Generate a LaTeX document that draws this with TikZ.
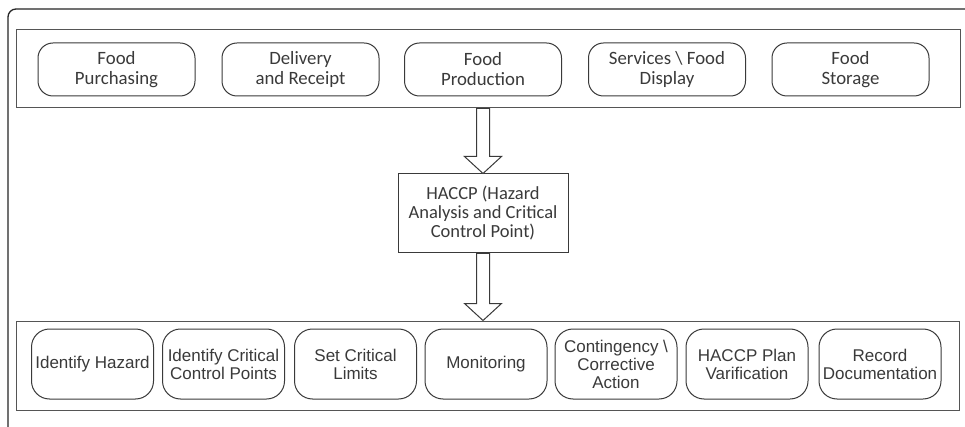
\documentclass[tikz,border=0pt]{standalone}
\usepackage{fontspec}
\setmainfont{Carlito}
\newfontfamily\arialf{Liberation Sans}
\usetikzlibrary{calc}
\definecolor{ink}{HTML}{3A3A3A}
\definecolor{frame}{HTML}{555555}
\tikzset{
  x=1pt, y=-1pt,
  band/.style={draw=frame, line width=1pt, minimum width=#1, inner sep=0pt},
  topbox/.style={draw=ink, line width=1pt, rounded corners=15pt, minimum width=157pt, minimum height=53pt, align=center, text=ink, font=\fontsize{18.8}{20}\selectfont, inner sep=0pt},
  botbox/.style={draw=ink, line width=1pt, rounded corners=18pt, minimum width=122pt, minimum height=70pt, align=center, text=ink, font=\arialf\fontsize{17}{18}\selectfont, inner sep=0pt},
  mainbox/.style={draw=ink, line width=1pt, minimum width=170pt, minimum height=79pt, align=center, text=ink, font=\fontsize{18.5}{19}\selectfont, inner sep=0pt},
  blockarrow/.style={draw=ink, line width=1pt, fill=white, line join=miter}
}
\begin{document}
\begin{tikzpicture}
\useasboundingbox (0,0) rectangle (965,427);
\fill[white] (0,0) rectangle (965,427);
% outer frame (clipped at right and bottom)
\draw[line width=1.3pt, black!85, rounded corners=8pt] (965,9) -- (8,9) -- (8,427);

% top band and boxes
\node[band=944pt, minimum height=78pt] (topband) at (488,69) {};
\node[topbox] (purch) at (116.5,69.5) {Food\\Purchasing};
\node[topbox] (deliv) at (300.5,69.5) {Delivery\\and Receipt};
\node[topbox] (prod)  at (483,69.5) {Food\\Production};
\node[topbox] (serv)  at (667,69.5) {Services \textbackslash{} Food\\Display};
\node[topbox] (stor)  at (850.5,69.5) {Food\\Storage};

% HACCP box
\node[mainbox] (haccp) at (483,213.5) {HACCP (Hazard\\Analysis and Critical\\Control Point)};

% bottom band and boxes
\node[band=943pt, minimum height=89pt] (botband) at (487.5,365.5) {};
\node[botbox] (b1) at (92.5,364)  {Identify Hazard};
\node[botbox] (b2) at (223.5,364) {Identify Critical\\Control Points};
\node[botbox] (b3) at (355.5,364) {Set Critical\\Limits};
\node[botbox] (b4) at (486,364)   {Monitoring};
\node[botbox] (b5) at (616,364)   {Contingency \textbackslash\\Corrective\\Action};
\node[botbox] (b6) at (747,364)   {HACCP Plan\\Varification};
\node[botbox] (b7) at (880,364)   {Record\\Documentation};

% block arrows
\coordinate (a1tip) at (haccp.north);
\coordinate (a1top) at (topband.south -| haccp.north);
\draw[blockarrow] (a1tip) -- ($(a1tip)+(-18.5,-17)$) -- ($(a1tip)+(-6.5,-17)$) -- ($(a1top)+(-6.5,0)$)
  -- ($(a1top)+(6.5,0)$) -- ($(a1tip)+(6.5,-17)$) -- ($(a1tip)+(18.5,-17)$) -- cycle;
\coordinate (a2tip) at (botband.north -| haccp.south);
\coordinate (a2top) at (haccp.south);
\draw[blockarrow] (a2tip) -- ($(a2tip)+(-18.5,-17)$) -- ($(a2tip)+(-6.5,-17)$) -- ($(a2top)+(-6.5,0)$)
  -- ($(a2top)+(6.5,0)$) -- ($(a2tip)+(6.5,-17)$) -- ($(a2tip)+(18.5,-17)$) -- cycle;
\end{tikzpicture}
\end{document}
